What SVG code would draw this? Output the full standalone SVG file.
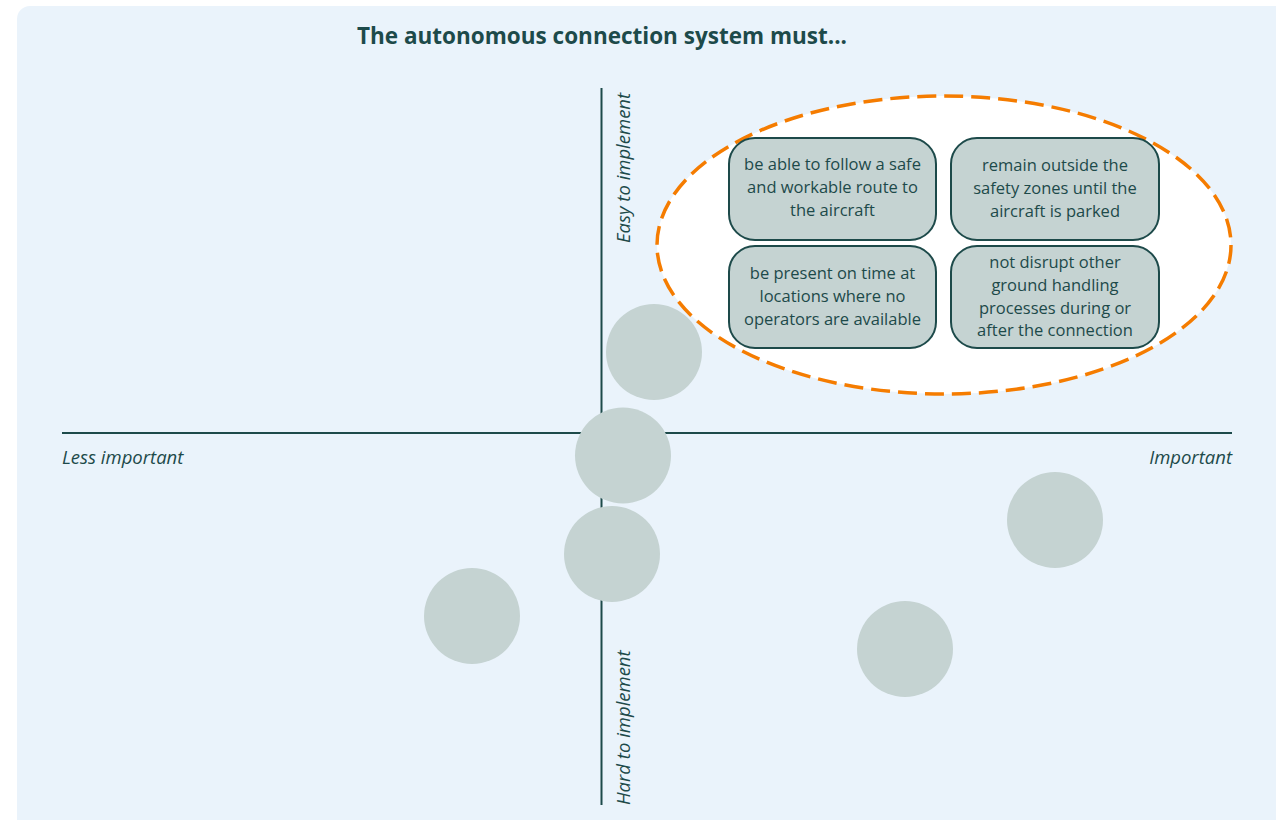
<svg xmlns="http://www.w3.org/2000/svg" width="1276" height="820" viewBox="0 0 1276 820">
  <style>
    .axis { stroke: #1d4a4a; stroke-width: 2; fill: none; }
    .dot { fill: #c5d3d2; }
    .card rect { fill: #c5d3d2; stroke: #1d4a4a; stroke-width: 2; }
    .card text, .lbl { font-family: "Open Sans", "Noto Sans", sans-serif; fill: #1d4a4a; }
    .card text { font-size: 16.5px; text-anchor: middle; }
    .lbl { font-size: 18.5px; font-style: italic; }
    .title { font-family: "Open Sans", "Noto Sans", sans-serif; font-size: 22.5px; font-weight: 700; fill: #1d4a4a; text-anchor: middle; }
  </style>

  <!-- panel -->
  <rect x="17" y="6" width="1271" height="826" rx="13" fill="#eaf3fb"/>

  <text class="title" x="602" y="44">The autonomous connection system must...</text>

  <!-- axes -->
  <g id="axes">
    <line class="axis" x1="601.5" y1="88" x2="601.5" y2="805"/>
    <line class="axis" x1="62" y1="433" x2="1232" y2="433"/>
    <text class="lbl" x="62" y="464">Less important</text>
    <text class="lbl" x="1232" y="464" text-anchor="end">Important</text>
    <text class="lbl" transform="translate(630 243) rotate(-90)">Easy to implement</text>
    <text class="lbl" transform="translate(630 805) rotate(-90)">Hard to implement</text>
  </g>

  <!-- highlighted cluster -->
  <ellipse id="cluster" cx="944" cy="245" rx="287" ry="149" fill="#ffffff" stroke="#f57c00" stroke-width="3.5" stroke-dasharray="19 8"/>

  <g id="card-route" class="card">
    <rect x="729" y="138" width="207" height="102" rx="26"/>
    <text x="832.5" y="170">be able to follow a safe</text>
    <text x="832.5" y="193">and workable route to</text>
    <text x="832.5" y="216">the aircraft</text>
  </g>
  <g id="card-zones" class="card">
    <rect x="951" y="138" width="208" height="102" rx="26"/>
    <text x="1055" y="171">remain outside the</text>
    <text x="1055" y="194">safety zones until the</text>
    <text x="1055" y="217">aircraft is parked</text>
  </g>
  <g id="card-ontime" class="card">
    <rect x="729" y="246" width="207" height="102" rx="26"/>
    <text x="832.5" y="279">be present on time at</text>
    <text x="832.5" y="302">locations where no</text>
    <text x="832.5" y="325">operators are available</text>
  </g>
  <g id="card-disrupt" class="card">
    <rect x="951" y="246" width="208" height="102" rx="26"/>
    <text x="1055" y="268">not disrupt other</text>
    <text x="1055" y="291">ground handling</text>
    <text x="1055" y="314">processes during or</text>
    <text x="1055" y="336">after the connection</text>
  </g>

  <!-- unlabelled requirement markers -->
  <g id="dots">
    <circle class="dot" cx="654" cy="352" r="48"/>
    <circle class="dot" cx="623" cy="455.5" r="48"/>
    <circle class="dot" cx="612" cy="554" r="48"/>
    <circle class="dot" cx="472" cy="616" r="48"/>
    <circle class="dot" cx="1055" cy="520" r="48"/>
    <circle class="dot" cx="905" cy="649" r="48"/>
  </g>
</svg>
